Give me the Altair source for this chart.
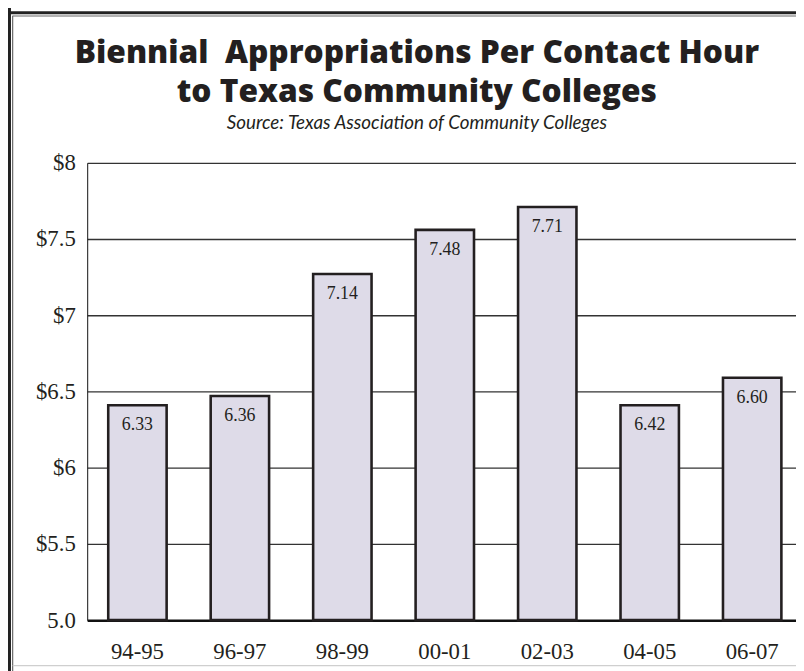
import altair as alt
import pandas as pd

periods = ["94-95", "96-97", "98-99", "00-01", "02-03", "04-05", "06-07"]
bar_tops = [6.41, 6.47, 7.27, 7.56, 7.71, 6.41, 6.59]
printed_values = ["6.33", "6.36", "7.14", "7.48", "7.71", "6.42", "6.60"]
y_ticks = [5.0, 5.5, 6.0, 6.5, 7.0, 7.5, 8.0]
title_line1 = "Biennial\u00a0 Appropriations Per Contact Hour"
title_line2 = "to Texas Community Colleges"
source_line = "Source: Texas Association of Community Colleges"

df = pd.DataFrame({"period": periods, "top": bar_tops, "label": printed_values})
one = pd.DataFrame({"k": [0]})

W, H = 716, 462
INK = "#231f20"
SERIF = "Liberation Serif"

x_enc = alt.X(
    "period:N",
    sort=periods,
    scale=alt.Scale(paddingInner=0.43, paddingOuter=0.174, align=0.59),
    axis=alt.Axis(
        title=None, labelAngle=0, ticks=False, domain=True, domainColor="#111",
        domainWidth=2.5, labelFont=SERIF, labelFontSize=23, labelColor=INK,
        labelPadding=21, grid=False,
    ),
)
y_scale = alt.Scale(domain=[5, 8], zero=False, nice=False)

base = alt.Chart(df)

bars = base.mark_bar(
    fill="#dedbe8", stroke=INK, strokeWidth=2.6
).encode(
    x=x_enc,
    y=alt.Y(
        "top:Q", scale=y_scale,
        axis=alt.Axis(
            title=None, values=y_ticks, ticks=False, domain=True, domainColor="#111",
            domainWidth=1, grid=True, gridColor="#333", gridWidth=1.3,
            labelFont=SERIF, labelFontSize=23, labelColor=INK, labelPadding=12,
            format="~g",
            labelExpr="datum.value == 5 ? '5.0' : '$' + datum.label",
        ),
    ),
    y2=alt.datum(5),
)

labels = base.mark_text(
    font=SERIF, fontSize=18, color=INK, baseline="alphabetic", dy=25
).encode(
    x=alt.X("period:N", sort=periods),
    y=alt.Y("top:Q", scale=y_scale),
    text="label:N",
)

def title_text(txt, y, size, font, weight="normal", style="normal"):
    return alt.Chart(one).mark_text(
        text=txt, font=font, fontSize=size, fontWeight=weight, fontStyle=style,
        color=INK, align="center", baseline="alphabetic",
    ).encode(x=alt.value(333), y=alt.value(y))

t1 = title_text(title_line1, -101, 32, "Open Sans", weight=800)
t2 = title_text(title_line2, -61, 32, "Open Sans", weight=800)
t3 = title_text(source_line, -34, 19, "Lato", style="italic")

# decorative double frame around the page
frame = alt.Chart(one)
frame_outer_left = frame.mark_rule(color="#222", strokeWidth=3).encode(
    x=alt.value(-78.5), y=alt.value(-160), y2=alt.value(520))
frame_inner_left = frame.mark_rule(color="#666", strokeWidth=1.2).encode(
    x=alt.value(-75.3), y=alt.value(-148.5), y2=alt.value(520))
frame_outer_top = frame.mark_rule(color="#222", strokeWidth=3).encode(
    y=alt.value(-151.5), x=alt.value(-80), x2=alt.value(760))
frame_inner_top = frame.mark_rule(color="#666", strokeWidth=1.2).encode(
    y=alt.value(-148.3), x=alt.value(-75.3), x2=alt.value(760))
frame_bottom = frame.mark_rule(color="#cfcfcf", strokeWidth=1.2).encode(
    y=alt.value(508), x=alt.value(-75.3), x2=alt.value(760))

chart = alt.layer(
    bars, labels, t1, t2, t3,
    frame_outer_left, frame_inner_left, frame_outer_top, frame_inner_top, frame_bottom,
).properties(
    width=W, height=H,
    autosize=alt.AutoSizeParams(type="none"),
    padding={"left": 80, "top": 153, "right": 0, "bottom": 48},
).configure_view(stroke=None)

chart.save("out.html", embed_options={"renderer": "svg", "actions": False})
